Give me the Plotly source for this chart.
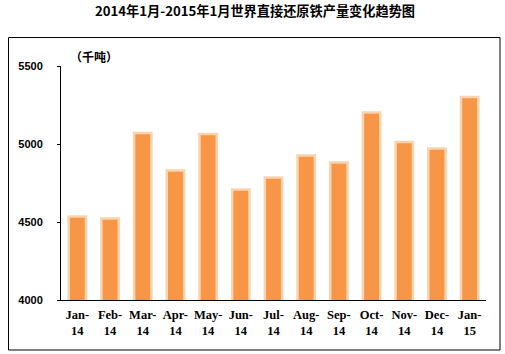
import plotly.graph_objects as go

months = ["Jan-<br>14", "Feb-<br>14", "Mar-<br>14", "Apr-<br>14", "May-<br>14", "Jun-<br>14",
          "Jul-<br>14", "Aug-<br>14", "Sep-<br>14", "Oct-<br>14", "Nov-<br>14", "Dec-<br>14", "Jan-<br>15"]
production = [4535, 4522, 5070, 4830, 5064, 4708, 4785, 4926, 4881, 5202, 5013, 4971, 5301]
y_ticks = [4000, 4500, 5000, 5500]

W, H = 505, 354
L, R, T, B = 61, 19, 66, 54
pw, ph = W - L - R, H - T - B

def px(x):
    return (x - L) / pw

def py(y):
    return (H - B - y) / ph

fig = go.Figure()
fig.add_trace(go.Bar(
    x=months, y=production, base=0,
    width=0.53,
    marker=dict(color="#F79646", line=dict(color="#FBD4AE", width=2.5)),
))

tick_font = dict(family="Liberation Serif", size=12.5, color="#000000")

fig.update_layout(
    width=W, height=H,
    margin=dict(l=L, r=R, t=T, b=B),
    paper_bgcolor="white", plot_bgcolor="white",
    showlegend=False,
    title=dict(text="<b>2014年1月-2015年1月世界直接还原铁产量变化趋势图</b>",
               x=255 / W, xref="container", xanchor="center", y=1 - 11 / H, yanchor="middle",
               font=dict(family="Noto Sans CJK SC", size=13.2, color="#000000")),
    xaxis=dict(type="category", showgrid=False, showline=True, linecolor="#000000", linewidth=1,
               ticks="", tickfont=tick_font, tickangle=0, fixedrange=True, ticklabelstandoff=3),
    yaxis=dict(range=[4000, 5500], tickvals=y_ticks, ticktext=[f"<b>{v}</b>" for v in y_ticks],
               showgrid=False, showline=True, linecolor="#000000", linewidth=1,
               ticks="outside", ticklen=3, tickcolor="#000000", ticklabelstandoff=12,
               tickfont=dict(family="Liberation Sans", size=11, color="#000000"), zeroline=False),
    shapes=[dict(type="rect", xref="paper", yref="paper",
                 x0=px(8.5), x1=px(500), y0=py(350), y1=py(37.5),
                 line=dict(color="#000000", width=1), fillcolor="rgba(0,0,0,0)", layer="below")],
    annotations=[dict(text="<b>（千吨）</b>", xref="paper", yref="paper",
                      x=px(68), y=py(57), xanchor="left", yanchor="middle", showarrow=False,
                      font=dict(family="Noto Sans CJK SC", size=12, color="#000000"))],
)
fig.update_xaxes(ticktext=[f"<b>{m}</b>" for m in months], tickvals=months)

fig.write_html("out.html")
